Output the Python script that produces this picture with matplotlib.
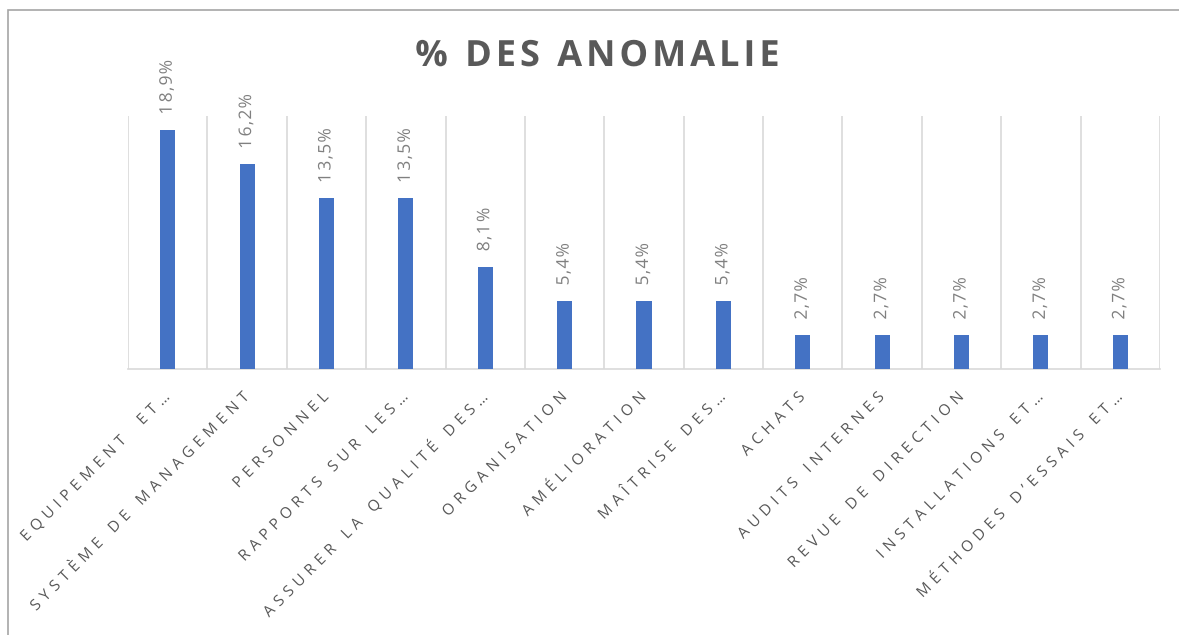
import matplotlib
matplotlib.use("Agg")
import numpy as np
import matplotlib.pyplot as plt
from matplotlib.patches import Rectangle
from matplotlib.path import Path
from matplotlib.patheffects import AbstractPathEffect

categories = ["EQUIPEMENT   ET…", "SYSTÈME DE MANAGEMENT", "PERSONNEL", "RAPPORTS SUR LES…",
              "ASSURER LA QUALITÉ DES…", "ORGANISATION", "AMÉLIORATION", "MAÎTRISE DES…",
              "ACHATS", "AUDITS INTERNES", "REVUE DE DIRECTION", "INSTALLATIONS ET…",
              "MÉTHODES D’ESSAIS ET…"]
values = [18.9, 16.2, 13.5, 13.5, 8.1, 5.4, 5.4, 5.4, 2.7, 2.7, 2.7, 2.7, 2.7]
labels = ["18,9%", "16,2%", "13,5%", "13,5%", "8,1%", "5,4%", "5,4%", "5,4%",
          "2,7%", "2,7%", "2,7%", "2,7%", "2,7%"]
title = "% DES ANOMALIE"


class LetterSpacing(AbstractPathEffect):
    """Draws text with extra tracking between glyphs (em = 100 path units)."""

    def __init__(self, spacing, align=0.0, space_adv=26.0):
        super().__init__()
        self.spacing = spacing
        self.align = align
        self.space_adv = space_adv

    def draw_path(self, renderer, gc, tpath, affine, rgbFace=None):
        verts = np.array(tpath.vertices, dtype=float).copy()
        codes = tpath.codes
        if codes is None or len(verts) == 0:
            renderer.draw_path(gc, tpath, affine, rgbFace)
            return
        starts = list(np.where(codes == Path.MOVETO)[0])
        ends = starts[1:] + [len(codes)]
        groups = []  # [x0, x1, [(s, e), ...], last_is_dot]
        for s, e in zip(starts, ends):
            m = codes[s:e] != Path.CLOSEPOLY
            pts = verts[s:e][m]
            if len(pts) == 0:
                continue
            x0, x1 = pts[:, 0].min(), pts[:, 0].max()
            y0, y1 = pts[:, 1].min(), pts[:, 1].max()
            is_dot = (x1 - x0) < 20 and (y1 - y0) < 20 and y1 < 25
            c = 0.5 * (x0 + x1)
            if groups:
                g = groups[-1]
                gc_ = 0.5 * (g[0] + g[1])
                if (g[0] <= c <= g[1]) or (x0 <= gc_ <= x1) or (is_dot and g[3] and x0 - g[1] < 25):
                    g[0] = min(g[0], x0)
                    g[1] = max(g[1], x1)
                    g[2].append((s, e))
                    g[3] = is_dot
                    continue
            groups.append([x0, x1, [(s, e)], is_dot])
        idx = 0.0
        offsets = []
        prev_x1 = None
        for g in groups:
            if prev_x1 is not None:
                gap = g[0] - prev_x1
                nsp = min(1, max(0, int(round((gap - 12.0) / self.space_adv))))
                idx += 1 + nsp
            offsets.append(idx * self.spacing)
            prev_x1 = g[1]
        total = offsets[-1] if offsets else 0.0
        shift = -self.align * total
        for g, off in zip(groups, offsets):
            for s, e in g[2]:
                verts[s:e, 0] += off + shift
        renderer.draw_path(gc, Path(verts, codes), affine, rgbFace)


plt.rcParams['font.family'] = ['Open Sans', 'DejaVu Sans']

fig = plt.figure(figsize=(11.79, 6.35), dpi=100)
fig.patches.append(Rectangle((8/1179, -0.05), 1.2, (635-10)/635 + 0.05, transform=fig.transFigure,
                             fill=False, edgecolor='#A6A6A6', linewidth=1.2))

ax = fig.add_axes([128/1179, 1-369/635, (1160-128)/1179, (369-116)/635])
n = len(categories)
x = np.arange(n)
ax.bar(x, values, width=0.19, color='#4472C4', zorder=3)
ax.set_xlim(-0.5, n - 0.5)
ax.set_ylim(0, 20)
ax.set_yticks([])
for b in range(n + 1):
    ax.axvline(b - 0.5, color='#D9D9D9', linewidth=1.2, zorder=1)
for s in ['top', 'right', 'left']:
    ax.spines[s].set_visible(False)
ax.spines['bottom'].set_color('#D9D9D9')
ax.spines['bottom'].set_linewidth(1.2)
ax.set_xticks(x)
ax.set_xticklabels(categories, rotation=45, ha='right', va='center', rotation_mode='anchor',
                   fontsize=11, color='#595959')
ax.tick_params(axis='x', length=0, pad=19)
for t in ax.get_xticklabels():
    t.set_path_effects([LetterSpacing(34, align=1.0)])

for xi, v, lab in zip(x, values, labels):
    ax.annotate(lab, (xi, v), xytext=(0, 11), textcoords='offset points', rotation=90,
                ha='center', va='bottom', fontsize=12.5, color='#808080',
                path_effects=[LetterSpacing(7, align=0.0)])

fig.text(597.5/1179, 1-57/635, title, ha='center', va='center', fontsize=26, fontweight='bold',
         color='#595959', path_effects=[LetterSpacing(11, align=0.5)])

fig.savefig('out.png', dpi=100)
